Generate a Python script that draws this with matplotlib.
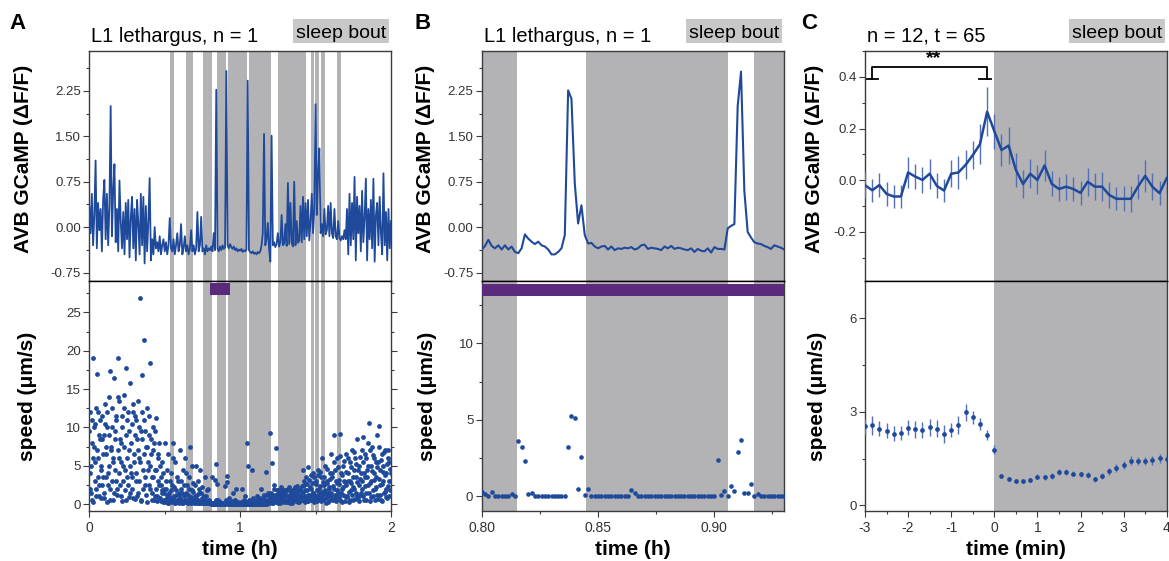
import numpy as np
import matplotlib
matplotlib.use('Agg')
import matplotlib.pyplot as plt
from matplotlib.patches import Rectangle
from matplotlib.ticker import MultipleLocator, FixedLocator, FormatStrFormatter

plt.rcParams['font.family'] = ['Liberation Sans', 'DejaVu Sans']
plt.rcParams['axes.unicode_minus'] = False

# ---------------- data ----------------
# sleep bouts (h)
bout_start = [0.535, 0.643, 0.754, 0.845, 0.917, 1.059, 1.251, 1.468, 1.495, 1.538, 1.644]
bout_end   = [0.564, 0.690, 0.815, 0.906, 1.045, 1.207, 1.439, 1.490, 1.520, 1.565, 1.671]
zoom_start, zoom_end = 0.80, 0.93

# panel A: GCaMP trace, sampled every 1/120 h
a_trace = [
    0.35, -0.10, 0.55, -0.30, 0.20, 1.10, -0.35, 0.40, -0.05, 0.30,
    -0.40, 0.45, 0.78, -0.20, 0.55, -0.30, 0.35, 2.00, -0.15, 0.60,
    1.04, -0.25, 0.30, -0.40, 0.77, 0.10, -0.35, 0.25, -0.45, 0.40,
    -0.20, 0.45, -0.50, 0.15, 0.50, -0.35, 0.30, -0.55, 0.45, 0.05,
    -0.45, 0.55, -0.30, 0.50, -0.60, 0.35, -0.40, 0.10, 0.81, -0.55,
    -0.20, -0.45, 0.00, -0.35, -0.25, -0.40, -0.15, -0.45, -0.30, -0.20,
    -0.40, -0.25, -0.45, -0.30, 0.15, -0.35, -0.40, -0.20, -0.45, -0.30,
    -0.10, -0.40, -0.30, 0.05, -0.45, -0.35, -0.15, -0.40, -0.30, -0.45,
    -0.35, -0.05, -0.40, -0.30, -0.45, -0.35, 0.25, -0.40, -0.30, 0.17,
    -0.40, -0.35, -0.45, -0.30, -0.40, -0.35, -0.38, -0.32, -0.40, -0.10,
    -0.38, 2.27, -0.35, -0.40, -0.32, -0.38, -0.30, -0.36, -0.33, 2.58,
    -0.30, -0.35, -0.28, -0.33, -0.36, -0.32, -0.38, -0.35, -0.40, -0.37,
    -0.39, -0.36, -0.41, -0.38, -0.40, -0.37, 2.42, -0.38, -0.41, -0.43,
    -0.40, -0.44, -0.42, -0.45, -0.41, -0.43, -0.40, -0.30, -0.10, 1.54,
    -0.30, -0.20, 0.07, -0.35, -0.57, 1.51, -0.30, -0.25, -0.33, -0.28,
    -0.10, -0.32, -0.25, 0.20, -0.30, -0.27, 0.05, -0.31, 0.73, -0.28,
    0.40, -0.25, -0.32, 0.75, -0.30, 0.10, -0.26, -0.22, 0.35, -0.25,
    0.50, -0.20, 0.40, -0.15, 0.45, -0.22, 0.10, 0.55, -0.10, 0.30,
    2.03, 0.20, 0.89, 1.30, -0.10, 0.05, -0.15, 0.30, -0.12, -0.05,
    0.35, -0.15, 0.40, -0.10, -0.18, 0.30, -0.15, -0.20, 0.10, -0.18,
    -0.22, -0.15, -0.20, -0.05, -0.20, 0.30, -0.45, 0.55, -0.30, 0.40,
    -0.20, 0.83, -0.55, 0.50, -0.10, 0.35, -0.40, 0.60, -0.25, 0.15,
    0.80, -0.55, 0.30, -0.20, 0.45, -0.35, 0.80, -0.57, 0.20, 0.40,
    -0.30, 0.50, -0.10, -0.45, 0.89, -0.30, 0.25, -0.55, 0.30, -0.35,
    0.10,
]
a_trace_time = np.linspace(0, 2, len(a_trace))

# panel A: speed, sampled every 1/200 h
a_speed = [
    9.5, 2.0, 5.0, 11.0, 0.5, 19.0, 7.5, 3.0, 10.5, 1.0, 17.0, 6.0, 12.0, 2.5, 8.5, 0.8, 4.5, 11.5, 3.5, 9.0,
    1.5, 13.0, 6.5, 0.3, 10.0, 4.0, 14.0, 2.0, 17.3, 7.0, 12.5, 0.6, 5.5, 16.5, 9.5, 3.0, 11.0, 1.2, 19.0, 6.0,
    13.5, 2.5, 8.0, 0.4, 11.5, 5.0, 14.2, 1.8, 9.0, 17.8, 3.5, 12.0, 0.9, 7.0, 15.8, 4.0, 10.5, 2.0, 13.0, 6.5,
    0.7, 11.5, 3.0, 8.5, 13.5, 1.5, 6.0, 26.9, 9.5, 0.5, 16.8, 4.5, 11.0, 21.4, 2.5, 7.5, 12.5, 0.3, 5.5, 9.0,
    18.4, 2.0, 6.5, 0.6, 10.0, 3.5, 8.0, 1.0, 4.5, 11.2, 0.4, 6.0, 2.5, 8.0, 0.8, 3.5, 1.5, 5.5, 0.3, 2.0,
    8.0, 0.5, 3.0, 1.2, 0.2, 6.5, 1.5, 0.8, 4.0, 2.5, 0.4, 8.0, 1.0, 0.2, 5.5, 1.8, 0.6, 3.0, 0.3, 1.2,
    7.0, 0.5, 2.0, 0.2, 4.5, 1.0, 0.3, 6.0, 1.5, 0.4, 2.5, 0.1, 3.5, 0.8, 7.5, 0.2, 1.8, 0.5, 2.8, 0.3,
    1.0, 5.0, 0.2, 0.6, 3.0, 0.1, 1.5, 4.5, 0.3, 0.8, 2.2, 0.1, 0.5, 3.5, 0.2, 1.0, 0.4, 2.0, 0.1, 0.3,
    0.3, 0.1, 0.0, 3.6, 0.2, 0.0, 0.0, 3.2, 5.2, 2.6, 0.5, 0.0, 0.0, 0.3, 0.0, 0.0, 0.1, 0.0, 0.0, 0.0,
    2.4, 0.3, 2.9, 3.7, 0.2, 0.8, 0.1, 0.0, 0.0, 0.0, 1.5, 0.0, 0.2, 0.0, 2.0, 0.1, 0.0, 0.3, 0.0, 0.0,
    0.1, 0.0, 2.0, 0.0, 0.3, 0.0, 0.0, 1.0, 0.0, 8.0, 0.2, 5.0, 0.0, 0.4, 0.0, 0.1, 4.5, 0.0, 0.3, 0.0,
    0.0, 0.2, 0.0, 1.0, 0.0, 0.5, 0.0, 0.3, 2.0, 0.0, 0.6, 0.0, 1.2, 0.2, 4.2, 0.4, 0.0, 1.5, 0.3, 0.8,
    9.3, 0.5, 5.3, 1.0, 0.2, 2.5, 0.6, 7.3, 1.2, 0.3, 1.8, 0.5, 1.0, 0.2, 1.5, 0.4, 2.0, 0.7, 0.3, 1.2,
    0.5, 1.8, 0.3, 1.0, 0.6, 2.0, 0.2, 1.4, 0.8, 0.3, 1.6, 0.5, 1.0, 2.2, 0.4, 1.2, 0.7, 1.8, 0.3, 1.0,
    2.0, 0.6, 1.5, 4.5, 0.8, 2.5, 1.0, 3.5, 0.4, 1.8, 4.8, 0.6, 2.2, 1.2, 3.8, 0.5, 4.0, 1.5, 0.8, 2.8,
    1.0, 3.0, 0.4, 4.5, 1.5, 2.0, 0.7, 3.5, 1.2, 6.0, 0.5, 2.5, 1.8, 5.0, 0.8, 3.0, 1.4, 0.3, 2.2, 4.0,
    6.5, 1.0, 3.5, 0.5, 9.0, 2.0, 4.5, 0.8, 2.8, 6.0, 1.5, 3.2, 9.2, 0.6, 4.0, 2.0, 5.0, 1.2, 3.0, 0.4,
    2.5, 6.5, 1.0, 4.0, 0.3, 3.0, 5.5, 1.8, 7.0, 2.2, 0.5, 4.5, 6.0, 1.5, 3.5, 8.5, 0.8, 2.5, 5.0, 1.2,
    4.0, 7.0, 2.0, 5.5, 0.6, 3.5, 6.5, 1.5, 4.5, 8.0, 2.5, 10.6, 0.4, 5.0, 3.0, 7.5, 1.0, 4.0, 6.0, 2.0,
    3.5, 9.0, 1.2, 5.5, 10.2, 2.5, 4.5, 0.5, 6.5, 3.0, 5.0, 1.5, 7.0, 2.0, 4.0, 0.8, 6.0, 3.0, 5.5, 1.8,
    4.0,
]
a_speed_time = np.linspace(0, 2, len(a_speed))

# panel A: speed, interleaved samples (midway between the samples above)
a_speed_mid = [
    4.0, 12.0, 1.5, 8.0, 6.0, 0.3, 10.0, 5.5, 2.0, 12.5, 7.0, 3.5, 9.0, 1.0, 11.0, 5.0, 2.5, 8.5, 6.5, 0.8,
    10.5, 3.5, 7.5, 12.0, 2.5, 9.0, 5.0, 0.5, 7.5, 3.0, 10.0, 6.0, 1.5, 8.5, 4.5, 11.5, 2.0, 7.0, 14.0, 4.0,
    8.5, 5.5, 1.0, 10.0, 3.0, 7.5, 12.5, 4.5, 0.6, 6.0, 11.0, 2.5, 9.5, 5.0, 1.5, 8.0, 3.5, 12.0, 0.8, 5.5,
    9.0, 4.0, 11.0, 1.0, 7.0, 3.0, 10.0, 5.5, 0.4, 8.5, 12.0, 2.0, 6.5, 9.5, 3.5, 1.2, 7.5, 4.5, 11.5, 2.5,
    5.0, 8.5, 1.5, 3.5, 7.0, 0.5, 4.5, 9.5, 2.0, 1.0, 6.5, 3.0, 0.8, 5.0, 2.5, 0.4, 1.8, 4.0, 0.6, 1.5,
    0.3, 2.0, 0.8, 4.5, 0.2, 1.0, 3.0, 0.5, 1.8, 0.3, 6.0, 0.7, 2.2, 0.2, 1.2, 0.4, 3.5, 0.6, 1.5, 0.2,
    0.8, 3.0, 0.4, 1.4, 0.2, 2.5, 0.6, 0.3, 4.0, 0.5, 1.2, 0.2, 2.0, 0.4, 0.9, 5.0, 0.3, 1.6, 0.2, 0.7,
    2.5, 0.3, 1.2, 0.2, 0.6, 2.0, 0.1, 0.4, 1.5, 0.2, 0.3, 1.0, 0.1, 0.6, 0.2, 1.8, 0.3, 0.1, 0.5, 0.2,
    0.1, 0.2, 0.0, 0.1, 0.0, 0.2, 0.0, 0.5, 0.0, 0.1, 0.0, 0.3, 0.0, 0.0, 0.1, 0.0, 0.0, 0.0, 0.1, 0.0,
    0.0, 0.5, 0.3, 0.0, 0.1, 0.0, 0.0, 0.2, 0.0, 0.4, 0.0, 0.1, 0.0, 0.5, 0.0, 0.0, 0.2, 0.0, 0.1, 0.0,
    0.0, 0.3, 0.0, 0.1, 0.0, 0.5, 0.0, 0.2, 0.0, 0.3, 0.0, 0.6, 0.1, 0.0, 0.2, 0.0, 0.8, 0.0, 0.1, 0.3,
    0.2, 0.0, 0.6, 0.1, 0.3, 0.0, 0.8, 0.2, 0.0, 0.5, 0.1, 1.0, 0.3, 0.0, 0.6, 0.2, 1.2, 0.4, 0.1, 0.9,
    0.6, 1.5, 0.2, 0.8, 2.0, 0.3, 1.2, 0.5, 1.8, 0.9, 0.2, 1.4, 0.6, 2.2, 0.3, 1.0, 0.7, 1.5, 0.4, 1.9,
    1.2, 0.3, 1.8, 0.6, 2.2, 0.4, 1.0, 1.7, 0.2, 1.3, 0.8, 2.0, 0.5, 1.5, 0.9, 2.3, 0.3, 1.1, 0.6, 1.7,
    0.9, 2.4, 0.5, 1.6, 3.0, 0.3, 1.9, 0.8, 2.6, 1.2, 0.4, 3.2, 1.0, 2.0, 0.6, 2.8, 1.4, 0.3, 3.5, 1.1,
    2.6, 0.5, 1.8, 3.8, 0.9, 2.3, 4.2, 0.4, 1.6, 2.9, 0.7, 3.6, 1.3, 0.2, 2.7, 4.6, 1.0, 2.0, 0.6, 3.3,
    1.5, 4.0, 0.7, 2.4, 5.5, 1.2, 3.0, 0.4, 1.9, 4.8, 0.9, 2.6, 6.3, 1.4, 0.3, 3.8, 2.2, 5.6, 1.0, 2.9,
    4.2, 0.9, 3.0, 6.0, 1.6, 0.5, 2.8, 4.8, 1.2, 3.6, 6.8, 2.0, 0.7, 5.2, 2.9, 1.1, 4.4, 0.4, 3.3, 6.2,
    1.4, 3.0, 8.7, 1.0, 4.0, 2.3, 6.0, 0.6, 3.5, 5.0, 1.5, 7.0, 2.8, 0.9, 4.3, 6.4, 1.8, 3.1, 0.5, 5.5,
    2.2, 4.8, 0.7, 7.5, 3.3, 1.2, 5.8, 2.6, 0.4, 4.2, 6.8, 1.6, 3.8, 0.9, 5.2, 2.4, 7.0, 1.1, 4.6, 3.0,
]
a_speed_mid_time = (np.arange(len(a_speed_mid)) + 0.5) * (2 / (len(a_speed) - 1))

# panel B: zoomed window 0.80-0.93 h, ~5 s sampling
b_trace = [
    -0.37, -0.31, -0.21, -0.31, -0.35, -0.30, -0.37, -0.30, -0.37, -0.32,
    -0.41, -0.43, -0.35, -0.12, -0.19, -0.24, -0.28, -0.24, -0.30, -0.32,
    -0.37, -0.45, -0.45, -0.41, -0.35, -0.13, 2.26, 2.12, 0.72, 0.06,
    0.36, -0.13, -0.27, -0.26, -0.32, -0.35, -0.32, -0.31, -0.37, -0.32,
    -0.38, -0.35, -0.36, -0.34, -0.35, -0.33, -0.37, -0.35, -0.30, -0.29,
    -0.36, -0.34, -0.35, -0.36, -0.38, -0.32, -0.35, -0.31, -0.36, -0.34,
    -0.35, -0.37, -0.38, -0.35, -0.41, -0.36, -0.39, -0.40, -0.35, -0.42,
    -0.33, -0.36, -0.36, -0.37, -0.02, 0.02, 0.05, 2.00, 2.57, 0.60,
    -0.08, -0.17, -0.25, -0.27, -0.28, -0.31, -0.33, -0.36, -0.30, -0.32,
    -0.34, -0.37,
]
b_speed = [
    0.30, 0.15, 0.00, 0.30, 0.00, 0.00, 0.00, 0.00, 0.00, 0.15,
    0.00, 3.60, 3.24, 2.30, 0.17, 0.24, 0.00, 0.00, 0.00, 0.00,
    0.00, 0.00, 0.00, 0.00, 0.00, 0.00, 3.24, 5.26, 5.13, 0.50,
    2.54, 0.10, 0.50, 0.00, 0.05, 0.05, 0.00, 0.00, 0.00, 0.00,
    0.00, 0.00, 0.00, 0.00, 0.00, 0.40, 0.24, 0.00, 0.00, 0.00,
    0.00, 0.00, 0.00, 0.00, 0.00, 0.00, 0.00, 0.00, 0.00, 0.00,
    0.00, 0.00, 0.00, 0.00, 0.00, 0.00, 0.00, 0.00, 0.00, 0.00,
    0.00, 2.37, 0.07, 0.37, 0.00, 0.70, 0.37, 2.90, 3.67, 0.24,
    0.20, 0.80, 0.05, 0.15, 0.00, 0.00, 0.00, 0.00, 0.00, 0.00,
    0.00, 0.00,
]
b_time = np.linspace(0.80, 0.9301, len(b_trace))

# panel C: average around sleep-bout onset (min)
c_time = np.linspace(-3, 4, 43)
c_gcamp = [-0.019, -0.039, -0.019, -0.053, -0.063, -0.063, 0.030, 0.014, 0.001, 0.025,
           -0.022, -0.040, 0.025, 0.030, 0.059, 0.097, 0.139, 0.265, 0.190, 0.117,
           0.134, 0.040, -0.015, 0.025, 0.001, 0.057, -0.014, -0.034, -0.025, -0.034,
           -0.049, -0.006, -0.025, -0.025, -0.057, -0.072, -0.072, -0.072, -0.025, 0.017,
           -0.025, -0.050, 0.008]
c_gcamp_err = [0.050, 0.045, 0.045, 0.046, 0.045, 0.046, 0.060, 0.047, 0.050, 0.058,
               0.048, 0.045, 0.053, 0.065, 0.056, 0.055, 0.077, 0.095, 0.068, 0.061,
               0.073, 0.065, 0.053, 0.056, 0.056, 0.061, 0.048, 0.045, 0.050, 0.048,
               0.047, 0.055, 0.052, 0.056, 0.052, 0.045, 0.048, 0.050, 0.048, 0.061,
               0.052, 0.046, 0.061]
c_speed = [2.53, 2.57, 2.46, 2.39, 2.29, 2.32, 2.48, 2.44, 2.41, 2.50,
           2.46, 2.28, 2.41, 2.59, 2.98, 2.82, 2.60, 2.26, 1.79, 0.95,
           0.84, 0.78, 0.78, 0.81, 0.92, 0.90, 0.95, 1.07, 1.07, 1.02,
           0.99, 0.98, 0.84, 0.95, 1.09, 1.20, 1.29, 1.43, 1.42, 1.42,
           1.44, 1.51, 1.48]
c_speed_err = [0.23, 0.31, 0.24, 0.24, 0.24, 0.23, 0.24, 0.27, 0.26, 0.27,
               0.26, 0.29, 0.23, 0.29, 0.28, 0.22, 0.19, 0.16, 0.13, 0.07,
               0.06, 0.06, 0.06, 0.07, 0.08, 0.08, 0.09, 0.10, 0.11, 0.09,
               0.09, 0.10, 0.08, 0.09, 0.11, 0.12, 0.12, 0.14, 0.13, 0.13,
               0.13, 0.15, 0.12]
c_sleep_start, c_sleep_end = 0, 4
sig_left, sig_right, sig_label = -2.84, -0.17, '**'

titles = ['L1 lethargus, n = 1', 'L1 lethargus, n = 1', 'n = 12, t = 65']
panel_letters = ['A', 'B', 'C']

# ---------------- style ----------------
BLUE = '#1f4a9b'
GRAY = '#b3b2b5'
PURPLE = '#5b2a7d'
SPINE = '#3c3c3c'
TXT = '#333333'

W, H = 1169, 561
fig = plt.figure(figsize=(W / 100, H / 100), dpi=100)


def fx(px):
    return px / W


def fy(py):
    return 1 - py / H


TOP, MID, BOT = 51, 281, 511


def make_pair(left_px, right_px):
    up = fig.add_axes([fx(left_px), fy(MID), (right_px - left_px) / W, (MID - TOP) / H])
    lo = fig.add_axes([fx(left_px), fy(BOT), (right_px - left_px) / W, (BOT - MID) / H])
    for ax, upper in ((up, True), (lo, False)):
        for s in ax.spines.values():
            s.set_color(SPINE)
            s.set_linewidth(1.0)
        if upper:
            ax.spines['bottom'].set_color('black')
            ax.tick_params(axis='x', which='both', bottom=False, labelbottom=False)
        else:
            ax.spines['top'].set_color('black')
            ax.tick_params(axis='x', which='major', direction='out', length=4, width=0.8,
                           colors=SPINE, labelsize=10, labelcolor=TXT, pad=3)
            ax.tick_params(axis='x', which='minor', direction='out', length=2.5, width=0.8, colors=SPINE)
        ax.tick_params(axis='y', which='major', direction='out', length=4, width=0.8,
                       colors=SPINE, labelsize=9.5, labelcolor=TXT, pad=2)
        ax.tick_params(axis='y', which='minor', direction='out', length=2.5, width=0.8, colors=SPINE)
        ax.set_facecolor('white')
    return up, lo


def header(left_px, right_px, letter_px, title, letter):
    fig.text(fx(letter_px), fy(29), letter, fontsize=16, fontweight='bold', ha='left', va='baseline')
    fig.text(fx(left_px + 2), fy(42), title, fontsize=14.5, ha='left', va='baseline')
    bx0, bx1 = right_px - 98, right_px - 2
    fig.patches.append(Rectangle((fx(bx0), fy(43)), (bx1 - bx0) / W, 24 / H,
                                 transform=fig.transFigure, facecolor='#c8c8c8', edgecolor='none'))
    fig.text(fx((bx0 + bx1) / 2), fy(38.5), 'sleep bout', fontsize=14, ha='center', va='baseline')


def ylabels(up, lo, xu, xl, yu=0.53):
    up.set_ylabel('AVB GCaMP (\u0394F/F)', fontsize=15, fontweight='bold')
    lo.set_ylabel('speed (\u03bcm/s)', fontsize=15, fontweight='bold')
    up.yaxis.set_label_coords(xu, yu)
    lo.yaxis.set_label_coords(xl, 0.5)


# ---------------- panel A ----------------
axAu, axAl = make_pair(89.3, 391)
for ax in (axAu, axAl):
    for s, e in zip(bout_start, bout_end):
        ax.axvspan(s, e, color=GRAY, lw=0, zorder=0)
    ax.set_xlim(0, 2)
axAu.plot(a_trace_time, a_trace, color=BLUE, lw=1.3, zorder=3)
axAu.set_ylim(-0.89, 2.91)
axAu.yaxis.set_major_locator(FixedLocator([-0.75, 0, 0.75, 1.5, 2.25]))
axAu.yaxis.set_minor_locator(MultipleLocator(0.375))
axAu.yaxis.set_major_formatter(FormatStrFormatter('%.2f'))
axAl.scatter(a_speed_time, a_speed, s=12, color=BLUE, lw=0, zorder=3)
axAl.scatter(a_speed_mid_time, a_speed_mid, s=12, color=BLUE, lw=0, zorder=3)
axAl.fill_between([zoom_start, zoom_end], 27.3, 28.8, color=PURPLE, lw=0, zorder=4)
axAl.set_ylim(-0.9, 29.1)
axAl.yaxis.set_major_locator(MultipleLocator(5))
axAl.yaxis.set_minor_locator(MultipleLocator(2.5))
axAl.xaxis.set_major_locator(MultipleLocator(1))
axAl.xaxis.set_minor_locator(MultipleLocator(0.5))
axAl.tick_params(axis='y', which='both', right=True)
ylabels(axAu, axAl, -0.186, -0.174)
axAl.set_xlabel('time (h)', fontsize=15, fontweight='bold', labelpad=4)
header(89.3, 391, 9, titles[0], panel_letters[0])

# ---------------- panel B ----------------
axBu, axBl = make_pair(481.7, 784)
for ax in (axBu, axBl):
    for s, e in zip(bout_start, bout_end):
        ax.axvspan(s, e, color=GRAY, lw=0, zorder=0)
    ax.set_xlim(zoom_start, zoom_end)
axBu.plot(b_time, b_trace, color=BLUE, lw=1.5, zorder=3)
axBu.set_ylim(-0.89, 2.91)
axBu.yaxis.set_major_locator(FixedLocator([-0.75, 0, 0.75, 1.5, 2.25]))
axBu.yaxis.set_minor_locator(MultipleLocator(0.375))
axBu.yaxis.set_major_formatter(FormatStrFormatter('%.2f'))
axBl.scatter(b_time, b_speed, s=11, color=BLUE, lw=0, zorder=3)
axBl.fill_between([zoom_start, zoom_end], 13.1, 13.9, color=PURPLE, lw=0, zorder=4)
axBl.set_ylim(-0.96, 14.07)
axBl.yaxis.set_major_locator(MultipleLocator(5))
axBl.yaxis.set_minor_locator(MultipleLocator(2.5))
axBl.xaxis.set_major_locator(MultipleLocator(0.05))
axBl.xaxis.set_minor_locator(MultipleLocator(0.025))
axBl.xaxis.set_major_formatter(FormatStrFormatter('%.2f'))
ylabels(axBu, axBl, -0.155, -0.149)
axBl.set_xlabel('time (h)', fontsize=15, fontweight='bold', labelpad=4)
header(481.7, 784, 414, titles[1], panel_letters[1])

# ---------------- panel C ----------------
axCu, axCl = make_pair(865, 1166.7)
for ax in (axCu, axCl):
    ax.axvspan(c_sleep_start, c_sleep_end, color=GRAY, lw=0, zorder=0)
    ax.set_xlim(-3, 4)
axCu.errorbar(c_time, c_gcamp, yerr=c_gcamp_err, color=BLUE, lw=1.8, ecolor='#5670b5',
              elinewidth=1.0, capsize=0, zorder=3)
axCu.set_ylim(-0.39, 0.50)
axCu.yaxis.set_major_locator(MultipleLocator(0.2))
axCu.yaxis.set_minor_locator(MultipleLocator(0.1))
axCu.yaxis.set_major_formatter(FormatStrFormatter('%.1f'))
# significance bracket
yb, yf = 0.44, 0.393
axCu.plot([sig_left, sig_left, sig_right, sig_right], [yf, yb, yb, yf], color='black', lw=1.3, zorder=5)
axCu.plot([sig_left - 0.12, sig_left + 0.15], [yf, yf], color='black', lw=1.3, zorder=5)
axCu.plot([sig_right - 0.18, sig_right + 0.1], [yf, yf], color='black', lw=1.3, zorder=5)
axCu.text((sig_left + sig_right) / 2 + 0.1, yb - 0.004, sig_label, ha='center', va='bottom',
          fontsize=14, fontweight='bold')

axCl.errorbar(c_time, c_speed, yerr=c_speed_err, fmt='o', color=BLUE, ms=3.4, mew=0,
              ecolor='#5670b5', elinewidth=1.0, capsize=0, zorder=3)
axCl.set_ylim(-0.18, 7.19)
axCl.yaxis.set_major_locator(MultipleLocator(3))
axCl.yaxis.set_minor_locator(MultipleLocator(1.5))
axCl.xaxis.set_major_locator(MultipleLocator(1))
axCl.xaxis.set_minor_locator(MultipleLocator(0.5))
ylabels(axCu, axCl, -0.136, -0.127)
axCl.set_xlabel('time (min)', fontsize=15, fontweight='bold', labelpad=4)
header(865, 1166.7, 801, titles[2], panel_letters[2])

fig.savefig('out.png', dpi=100)
